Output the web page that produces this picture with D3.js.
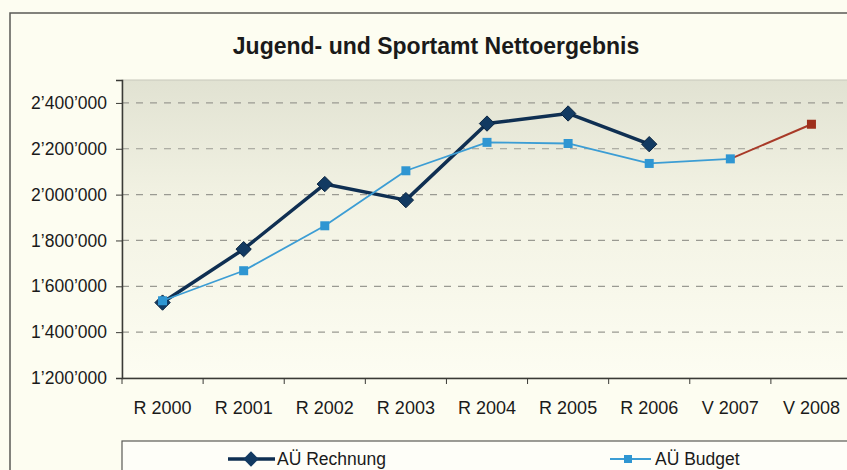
<!DOCTYPE html>
<html lang="de">
<head>
<meta charset="UTF-8" />
<title>Jugend- und Sportamt Nettoergebnis</title>
<script src="https://cdn.jsdelivr.net/npm/d3@7/dist/d3.min.js"></script>
<style>
  body { margin: 0; background: #fdfdf1; }
  svg { display: block; font-family: "Liberation Sans", Arial, sans-serif; }
</style>
</head>
<body>
<script>
// data
const categories = ['R 2000', 'R 2001', 'R 2002', 'R 2003', 'R 2004', 'R 2005', 'R 2006', 'V 2007', 'V 2008'];
const rechnung = [1529000, 1762000, 2046000, 1976000, 2310000, 2354000, 2220000, null, null];
const budget = [1537000, 1668000, 1864000, 2104000, 2228000, 2223000, 2136000, 2156000, null];
const voranschlag = [null, null, null, null, null, null, null, 2156000, 2307000];
const yTicks = [1200000, 1400000, 1600000, 1800000, 2000000, 2200000, 2400000];

const width = 847, height = 470;
const margin = { left: 122, top: 80, right: -5, bottom: 92 };

const svg = d3.select('body').append('svg')
    .attr('width', width)
    .attr('height', height);

// outer chart frame
svg.append('rect')
    .attr('x', 10).attr('y', 13)
    .attr('width', 900).attr('height', 500)
    .attr('fill', '#fdfdf1')
    .attr('stroke', '#5a5a55').attr('stroke-width', 1.5);

const defs = svg.append('defs');
const grad = defs.append('linearGradient')
    .attr('id', 'plotbg').attr('x1', 0).attr('y1', 0).attr('x2', 0).attr('y2', 1);
grad.append('stop').attr('offset', '0%').attr('stop-color', '#e1e2d2');
grad.append('stop').attr('offset', '40%').attr('stop-color', '#f2f2e3');
grad.append('stop').attr('offset', '100%').attr('stop-color', '#fdfdf2');

const x = d3.scaleBand()
    .domain(categories)
    .range([margin.left, width - margin.right]);

const y = d3.scaleLinear()
    .domain([1200000, 2500000])
    .range([height - margin.bottom, margin.top]);

// plot area
svg.append('rect')
    .attr('x', margin.left).attr('y', margin.top)
    .attr('width', width - margin.right - margin.left)
    .attr('height', height - margin.bottom - margin.top)
    .attr('fill', 'url(#plotbg)')
    .attr('stroke', '#c8c8bc').attr('stroke-width', 1);

// grid
svg.append('g')
    .selectAll('line')
    .data(yTicks.slice(1))
    .join('line')
    .attr('x1', margin.left).attr('x2', width)
    .attr('y1', d => y(d)).attr('y2', d => y(d))
    .attr('stroke', '#9a9a92')
    .attr('stroke-width', 1.2)
    .attr('stroke-dasharray', '7,7');

const fmt = d => d3.format(',')(d).replace(/,/g, '\u2019');

const yAxis = svg.append('g')
    .attr('transform', `translate(${margin.left},0)`)
    .call(d3.axisLeft(y).tickValues(yTicks).tickFormat(fmt).tickSize(6).tickPadding(9));
yAxis.select('.domain').attr('stroke', '#3a3a36').attr('stroke-width', 1.5);
yAxis.selectAll('.tick line').attr('stroke', '#3a3a36');
yAxis.selectAll('.tick text').attr('font-size', 17.5).attr('fill', '#1a1a1a')
    .attr('font-family', '"Liberation Sans", Arial, sans-serif');

const xAxis = svg.append('g')
    .attr('transform', `translate(0,${height - margin.bottom})`)
    .call(d3.axisBottom(x).tickSize(0).tickPadding(23));
xAxis.select('.domain').attr('stroke', '#3a3a36').attr('stroke-width', 1.5);
xAxis.selectAll('.tick text').attr('font-size', 18).attr('fill', '#1a1a1a')
    .attr('font-family', '"Liberation Sans", Arial, sans-serif');
// category boundary ticks
xAxis.append('g')
    .selectAll('line')
    .data(categories)
    .join('line')
    .attr('x1', d => x(d)).attr('x2', d => x(d))
    .attr('y1', 0).attr('y2', 6)
    .attr('stroke', '#3a3a36');

const cx = d => x(d) + x.bandwidth() / 2;

function drawLine(values, color, w) {
    const pts = categories.map((c, i) => ({ c, v: values[i] })).filter(d => d.v != null);
    svg.append('path')
        .datum(pts)
        .attr('fill', 'none')
        .attr('stroke', color)
        .attr('stroke-width', w)
        .attr('stroke-linejoin', 'round')
        .attr('d', d3.line().x(d => cx(d.c)).y(d => y(d.v)));
    return pts;
}

// V series (red), under the budget
const vPts = drawLine(voranschlag, '#a83a28', 2);
svg.append('g').selectAll('rect')
    .data(vPts.slice(1))
    .join('rect')
    .attr('x', d => cx(d.c) - 4.5).attr('y', d => y(d.v) - 4.5)
    .attr('width', 9).attr('height', 9)
    .attr('fill', '#9e2f1c');

// Rechnung (dark navy, diamonds)
const rPts = drawLine(rechnung, '#0f2f52', 3.5);
const diamond = d3.symbol().type(d3.symbolDiamond2).size(150);
svg.append('g').selectAll('path')
    .data(rPts)
    .join('path')
    .attr('transform', d => `translate(${cx(d.c)},${y(d.v)})`)
    .attr('d', diamond)
    .attr('fill', '#123a62')
    .attr('stroke', '#0a2440').attr('stroke-width', 1);

// Budget (light blue, squares)
const bPts = drawLine(budget, '#3c9dd4', 1.8);
svg.append('g').selectAll('rect')
    .data(bPts)
    .join('rect')
    .attr('x', d => cx(d.c) - 4.5).attr('y', d => y(d.v) - 4.5)
    .attr('width', 9).attr('height', 9)
    .attr('fill', '#2f96d2');

// title
svg.append('text')
    .attr('x', 436).attr('y', 54)
    .attr('text-anchor', 'middle')
    .attr('font-size', 23)
    .attr('font-weight', 'bold')
    .attr('fill', '#1a1a1a')
    .text('Jugend- und Sportamt Nettoergebnis');

// legend box
svg.append('rect')
    .attr('x', 122).attr('y', 441)
    .attr('width', 800).attr('height', 60)
    .attr('fill', '#fefef8')
    .attr('stroke', '#5a5a55').attr('stroke-width', 1.2);

const lg = svg.append('g');
lg.append('line').attr('x1', 228).attr('x2', 275).attr('y1', 459).attr('y2', 459)
    .attr('stroke', '#0f2f52').attr('stroke-width', 3.5);
lg.append('path').attr('transform', 'translate(251,459)').attr('d', diamond).attr('fill', '#123a62');
lg.append('text').attr('x', 277).attr('y', 465).attr('font-size', 17.5).attr('fill', '#1a1a1a').text('AÜ Rechnung');

lg.append('line').attr('x1', 610).attr('x2', 651).attr('y1', 459).attr('y2', 459)
    .attr('stroke', '#3c9dd4').attr('stroke-width', 1.8);
lg.append('rect').attr('x', 624).attr('y', 455).attr('width', 8).attr('height', 8).attr('fill', '#2f96d2');
lg.append('text').attr('x', 655).attr('y', 465).attr('font-size', 17.5).attr('fill', '#1a1a1a').text('AÜ Budget');
</script>
</body>
</html>
